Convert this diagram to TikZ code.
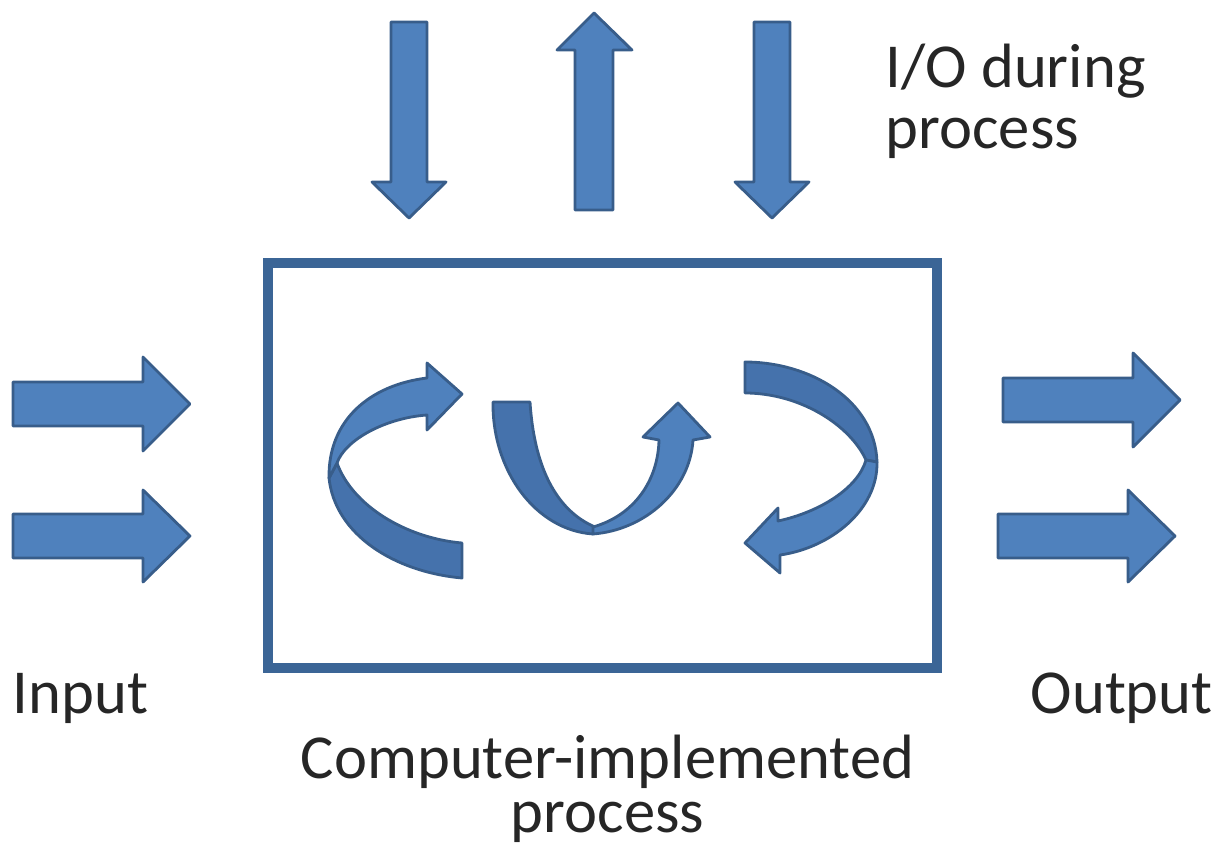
\documentclass[tikz,border=0pt]{standalone}
\usepackage{fontspec}
\setmainfont{Carlito}
\usetikzlibrary{positioning}

\definecolor{arrowblue}{HTML}{4F81BD}
\definecolor{arrowedge}{HTML}{385D8A}
\definecolor{backblue}{HTML}{4572AC}
\definecolor{boxedge}{HTML}{3B6596}

\tikzset{
	blockarrow/.style={fill=arrowblue, draw=arrowedge, line width=0.8pt, line join=round},
	backband/.style={fill=backblue, draw=arrowedge, line width=0.8pt, line join=round},
	labeltext/.style={inner sep=0pt, text=black!85, font=\fontsize{17.8}{17.5}\selectfont}
}

\begin{document}
\begin{tikzpicture}[x=0.01cm, y=-0.01cm]
	\useasboundingbox (0,0) rectangle (1225,846);

	% process box
	\node[draw=boxedge, line width=3pt, minimum width=6.69cm, minimum height=4.05cm] (proc) at (602.5,465.5) {};
	\node[labeltext, font=\fontsize{17.8}{15.4}\selectfont, align=center, below=0.61cm of proc, xshift=0.05cm] (proclabel) {Computer-implemented\\process};

	% input and output
	\draw[blockarrow] (13,382) -- (143,382) -- (143,357) -- (190,404) -- (143,451) -- (143,426) -- (13,426) -- cycle;
	\draw[blockarrow] (13,514) -- (143,514) -- (143,490) -- (190,536) -- (143,582) -- (143,558) -- (13,558) -- cycle;
	\draw[blockarrow] (1003,378) -- (1133,378) -- (1133,353) -- (1180,400) -- (1133,447) -- (1133,422) -- (1003,422) -- cycle;
	\draw[blockarrow] (998,514) -- (1128,514) -- (1128,490) -- (1175,536) -- (1128,582) -- (1128,558) -- (998,558) -- cycle;
	\node[labeltext, anchor=base west] (inlabel) at (12,713) {Input};
	\node[labeltext, anchor=base west] (outlabel) at (1030,713) {Output};

	% I/O during process
	\draw[blockarrow] (391,22) -- (391,182) -- (372,182) -- (409,218) -- (446,182) -- (427,182) -- (427,22) -- cycle;
	\draw[blockarrow] (575,210) -- (575,50) -- (557,50) -- (594,13) -- (632,50) -- (613,50) -- (613,210) -- cycle;
	\draw[blockarrow] (754,22) -- (754,182) -- (735,182) -- (772,218) -- (809,182) -- (790,182) -- (790,22) -- cycle;
	\node[labeltext, align=left, anchor=north west] (iolabel) at (885,43) {I/O during\\process};

	% curved arrows inside the box
	\draw[backband] (462,578) .. controls (395,572) and (335,535) .. (329,478) -- (337,463)
		.. controls (352,505) and (405,538) .. (462,543) -- cycle;
	\draw[blockarrow] (329,478) .. controls (328,420) and (370,385) .. (427,378) -- (427,363) -- (462,394)
		-- (427,430) -- (427,415) .. controls (385,418) and (345,440) .. (337,463) -- cycle;

	\draw[backband] (493,402) -- (530,402) .. controls (534,465) and (555,510) .. (595,527)
		-- (593,534) .. controls (535,530) and (492,470) .. (493,402) -- cycle;
	\draw[blockarrow] (593,527) .. controls (635,515) and (658,480) .. (659,440) -- (643,437) -- (678,403)
		-- (710,437) -- (693,440) .. controls (690,490) and (645,530) .. (593,534) -- cycle;

	\draw[backband] (745,362) .. controls (810,362) and (875,400) .. (877,462) -- (866,460)
		.. controls (850,425) and (800,393) .. (745,393) -- cycle;
	\draw[blockarrow] (866,460) -- (877,462) .. controls (878,510) and (830,548) .. (780,555) -- (780,573)
		-- (745,543) -- (778,508) -- (778,521) .. controls (820,512) and (858,488) .. (866,460) -- cycle;
\end{tikzpicture}
\end{document}
